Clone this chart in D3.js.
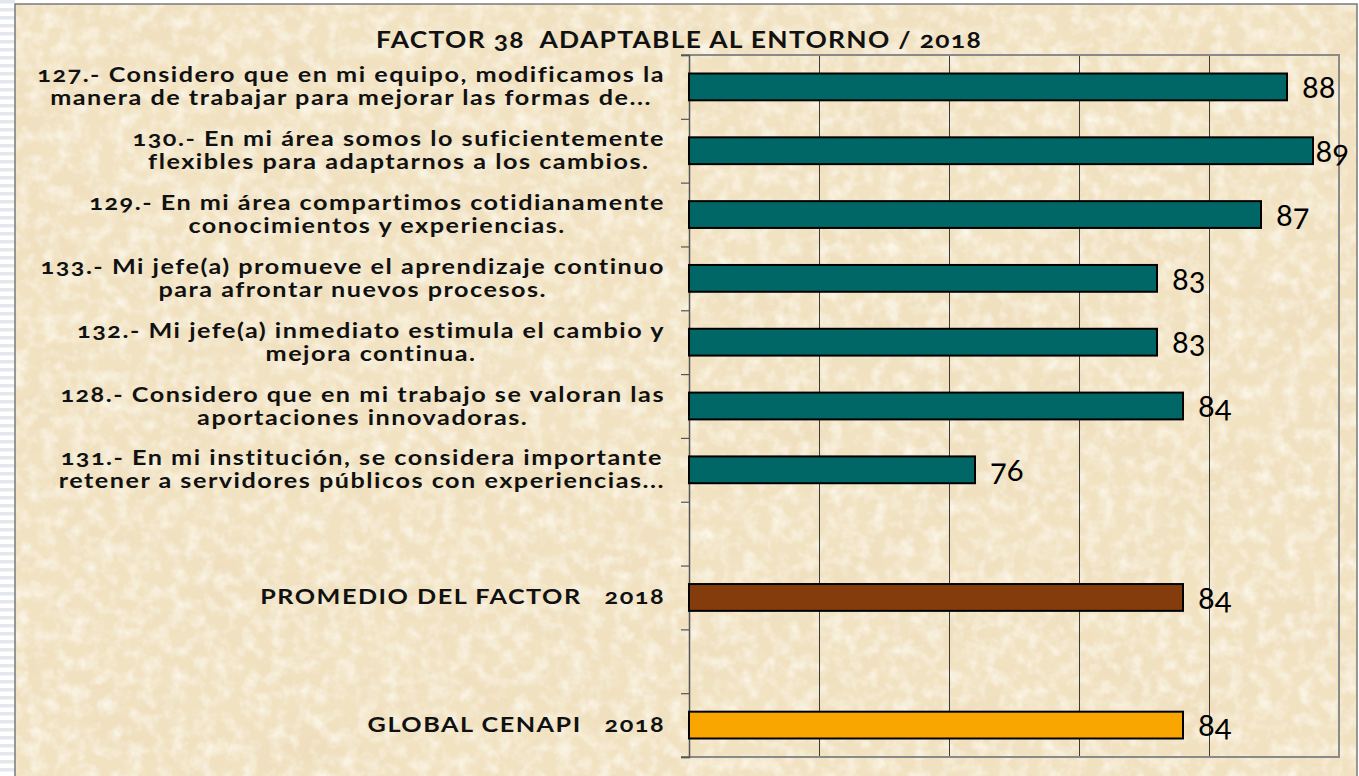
<!DOCTYPE html>
<html>
<head>
<meta charset="utf-8">
<script src="https://cdn.jsdelivr.net/npm/d3@7"></script>
<style>
  html, body { margin: 0; padding: 0; background: #ffffff; }
  svg { display: block; }
  text { font-family: Lato, "Open Sans", sans-serif; }
</style>
</head>
<body>
<svg id="chart" width="1359" height="776"></svg>
<script>
// ---- Data ----
const title = "FACTOR 38  ADAPTABLE AL ENTORNO / 2018";
const categories = [
  "127.- Considero que en mi equipo, modificamos la\nmanera de trabajar para mejorar las formas de...",
  "130.- En mi área somos lo suficientemente\nflexibles para adaptarnos a los cambios.",
  "129.- En mi área compartimos cotidianamente\nconocimientos y experiencias.",
  "133.- Mi jefe(a) promueve el aprendizaje continuo\npara afrontar nuevos procesos.",
  "132.- Mi jefe(a) inmediato estimula el cambio y\nmejora continua.",
  "128.- Considero que en mi trabajo se valoran las\naportaciones innovadoras.",
  "131.- En mi institución, se considera importante\nretener a servidores públicos con experiencias...",
  "",
  "PROMEDIO DEL FACTOR   2018",
  "",
  "GLOBAL CENAPI   2018"
];
const values = [88, 89, 87, 83, 83, 84, 76, null, 84, null, 84];
const groups = ["item","item","item","item","item","item","item","blank","promedio","blank","global"];
const xDomain = [65, 90];
const xTicks = [65, 70, 75, 80, 85, 90];

// ---- Layout ----
const W = 1359, H = 776;
const plot = { left: 689, right: 1339, top: 55, bottom: 757 };
const colors = { item: "#006666", promedio: "#843C0C", global: "#F9A700" };
const labelStretch = 1.26;   // widen the stand-in font towards the original's wide face
const titleStretch = 1.2;

const svg = d3.select("#chart");
const defs = svg.append("defs");

// parchment texture filters
const f1 = defs.append("filter").attr("id", "parch").attr("x", 0).attr("y", 0).attr("width", "100%").attr("height", "100%");
f1.append("feTurbulence").attr("type", "fractalNoise").attr("baseFrequency", "0.012 0.018").attr("numOctaves", 4).attr("seed", 7).attr("result", "n");
f1.append("feColorMatrix").attr("in", "n").attr("type", "matrix")
  .attr("values", "0 0 0 0 0.85  0 0 0 0 0.72  0 0 0 0 0.50  1.3 0 0 0 -0.56");
const f2 = defs.append("filter").attr("id", "grain").attr("x", 0).attr("y", 0).attr("width", "100%").attr("height", "100%");
f2.append("feTurbulence").attr("type", "fractalNoise").attr("baseFrequency", "0.07").attr("numOctaves", 3).attr("seed", 3).attr("result", "n");
f2.append("feColorMatrix").attr("in", "n").attr("type", "matrix")
  .attr("values", "0 0 0 0 0.99  0 0 0 0 0.97  0 0 0 0 0.90  1.6 0 0 0 -0.66");

// left striped strip
const pat = defs.append("pattern").attr("id", "stripes").attr("width", 15).attr("height", 8).attr("patternUnits", "userSpaceOnUse");
pat.append("rect").attr("width", 15).attr("height", 8).attr("fill", "#ffffff");
pat.append("rect").attr("y", 0).attr("width", 15).attr("height", 3.5).attr("fill", "#e3e7ee");
svg.append("rect").attr("x", 0).attr("y", 0).attr("width", 15).attr("height", H).attr("fill", "url(#stripes)");

// chart area background
const bg = { x: 15, y: 4, w: 1342, h: 772 };
svg.append("rect").attr("x", bg.x).attr("y", bg.y).attr("width", bg.w).attr("height", bg.h).attr("fill", "#F1E2C2");
svg.append("rect").attr("x", bg.x).attr("y", bg.y).attr("width", bg.w).attr("height", bg.h).attr("filter", "url(#parch)");
svg.append("rect").attr("x", bg.x).attr("y", bg.y).attr("width", bg.w).attr("height", bg.h).attr("filter", "url(#grain)");
svg.append("rect").attr("x", bg.x).attr("y", bg.y).attr("width", bg.w).attr("height", bg.h + 2)
  .attr("fill", "none").attr("stroke", "#7a7a7a").attr("stroke-width", 1.5);

// ---- Scales ----
const x = d3.scaleLinear().domain(xDomain).range([plot.left, plot.right]);
const idx = d3.range(categories.length);
const y = d3.scaleBand().domain(idx).range([plot.top, plot.bottom]).paddingInner(0.58).paddingOuter(0.29);
const yEdge = d3.scaleLinear().domain([0, categories.length]).range([plot.top, plot.bottom]);

// gridlines
svg.append("g")
  .attr("transform", `translate(0,${plot.bottom})`)
  .call(d3.axisBottom(x).tickValues(xTicks.slice(1, -1)).tickSize(-(plot.bottom - plot.top)).tickFormat(""))
  .call(g => g.select(".domain").remove())
  .call(g => g.selectAll("line").attr("stroke", "#3a3a3a").attr("stroke-width", 1));

// plot border (top, right, bottom) in gray
svg.append("path")
  .attr("d", `M${plot.left - 8},${plot.top}H${plot.right}V${plot.bottom}H${plot.left - 8}`)
  .attr("fill", "none").attr("stroke", "#8a8a8a").attr("stroke-width", 2);

// left axis with ticks at category boundaries
svg.append("g")
  .attr("transform", `translate(${plot.left},0)`)
  .call(d3.axisLeft(yEdge).tickValues(d3.range(categories.length + 1)).tickSize(8).tickFormat(""))
  .call(g => g.select(".domain").attr("stroke", "#555").attr("stroke-width", 1.5))
  .call(g => g.selectAll(".tick line").attr("stroke", "#555").attr("stroke-width", 1.2));

// ---- Bars ----
const data = idx.filter(i => values[i] != null).map(i => ({ i, v: values[i], g: groups[i] }));
svg.append("g").selectAll("rect").data(data).join("rect")
  .attr("x", x(xDomain[0]))
  .attr("y", d => y(d.i))
  .attr("width", d => x(d.v) - x(xDomain[0]))
  .attr("height", y.bandwidth())
  .attr("fill", d => colors[d.g])
  .attr("stroke", "#000").attr("stroke-width", 2);

// value labels
const vl = svg.append("g").selectAll("text").data(data).join("text")
  .attr("y", d => y(d.i) + y.bandwidth() / 2)
  .attr("dy", "0.36em")
  .attr("font-size", 31)
  .attr("fill", "#000")
  .style("font-variant-numeric", "oldstyle-nums")
  .text(d => d.v);
vl.each(function(d) {
  const w = this.getComputedTextLength();
  let xx = x(d.v) + 15;
  if (xx + w > 1349) xx = 1349 - w;
  d3.select(this).attr("x", xx);
});

// category labels (block right-aligned, lines centred within block)
const labelRight = 665;
const lab = svg.append("g").selectAll("g").data(idx.filter(i => categories[i] !== "")).join("g")
  .attr("transform", i => `translate(${labelRight},${y(i) + y.bandwidth() / 2}) scale(${labelStretch},1)`);
lab.each(function(i) {
  const g = d3.select(this);
  const lines = categories[i].split("\n");
  const lh = 23;
  const ts = lines.map((ln, k) => g.append("text")
    .attr("y", (k - (lines.length - 1) / 2) * lh)
    .attr("dy", "0.35em")
    .attr("font-size", 20)
    .attr("font-weight", 700)
    .attr("fill", "#111")
    .attr("text-anchor", "middle")
    .style("letter-spacing", "1.2px")
    .style("white-space", "pre")
    .style("font-variant-numeric", "oldstyle-nums")
    .text(ln));
  const maxW = d3.max(ts, t => t.node().getComputedTextLength());
  ts.forEach(t => t.attr("x", -maxW / 2));
});

// title
svg.append("g")
  .attr("transform", `translate(679,48) scale(${titleStretch},1)`)
  .append("text")
  .attr("text-anchor", "middle")
  .attr("font-size", 22)
  .attr("font-weight", 700)
  .attr("fill", "#111")
  .style("letter-spacing", "1.1px")
  .style("white-space", "pre")
  .style("font-variant-numeric", "oldstyle-nums")
  .text(title);
</script>
</body>
</html>
